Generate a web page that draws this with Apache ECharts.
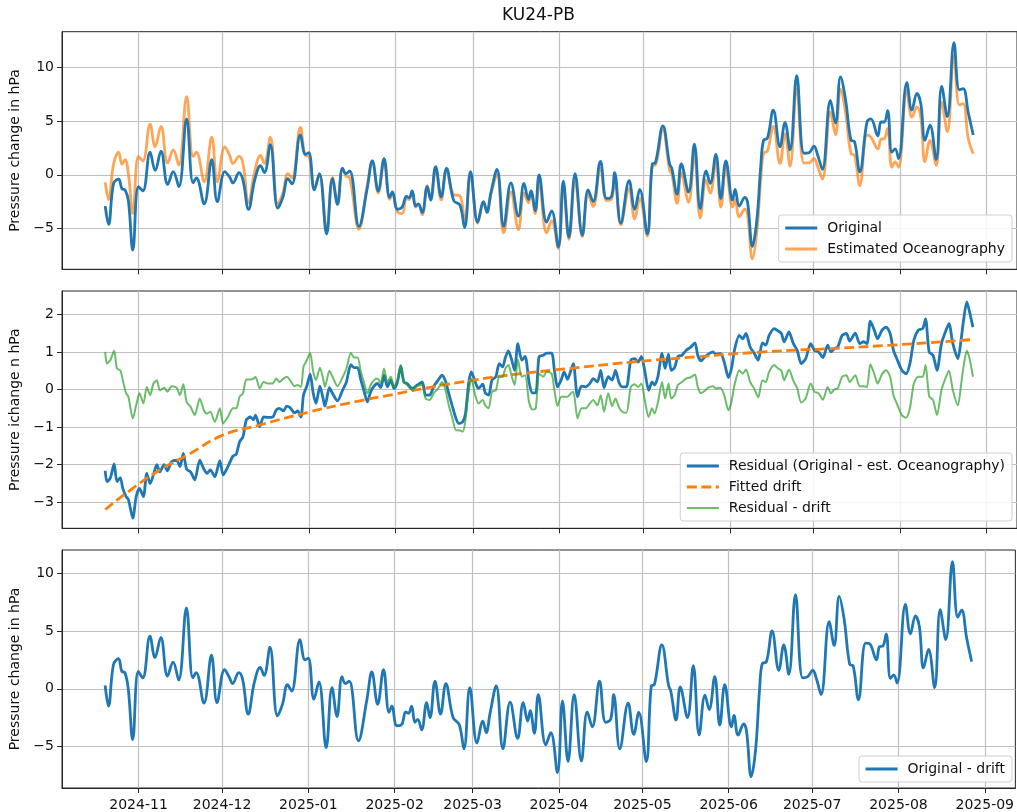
<!DOCTYPE html>
<html>
<head>
<meta charset="utf-8">
<script src="https://cdn.jsdelivr.net/npm/echarts@6/dist/echarts.min.js"></script>
<style>
html,body{margin:0;padding:0;background:#ffffff;}
#c{width:1017px;height:812px;}
</style>
</head>
<body>
<div id="c"></div>
<script>
// ---------------- DATA ----------------
// Day offsets since 2024-10-20 for the pressure series (top and bottom panels)
const pressureDays = [
  0,1.2,3.0,4.8,6.0,7.1,8.3,9.9,11.9,13.5,
  16.1,17.9,20.0,22.4,24.4,26.4,29.2,31.5,32.7,35.5,
  38.2,40.2,42.9,44.6,45.8,48.0,49.4,51.4,53.6,55.7,
  57.1,59.2,61.9,63.7,65.5,67.0,70.0,71.8,73.0,75.0,
  76.8,79.4,81.5,83.3,85.1,86.3,87.7,91.0,94.0,95.8,
  97.9,100.0,102.0,103.0,104.8,106.5,108.0,109.0,110.1,111.3,
  112.3,113.7,115.5,116.7,118.5,120.5,122.4,125.0,127.2,128.9,
  131.0,133.6,135.7,136.9,138.3,140.5,142.9,145.5,148.2,150.2,
  151.8,152.7,154.2,155.6,158.3,160.1,162.5,164.3,166.3,168.5,
  171.1,173.2,175.0,177.6,179.8,181.6,182.7,184.9,187.9,189.9,
  191.7,194.4,196.2,197.3,200.0,202.4,203.2,205.1,206.6,209.2,
  211.3,213.4,215.5,217.0,219.0,220.8,222.6,225.0,225.9,227.4,
  229.4,230.4,232.1,233.7,235.1,236.1,237.5,239.6,242.0,243.8,
  245.6,248.0,250.6,252.4,254.2,255.6,257.2,260.1,261.9,263.7,
  265.5,267.5,268.7,270.6,273.2,274.6,277.1,278.2,279.4,280.6,
  282.1,283.3,284.5,287.5,289.3,291.1,292.5,294.0,295.8,298.0,
  300.0,302.0,304.4,306.3,307.7,309.5,311.3
];
const original = [
  -2.9,-4.6,-0.8,-0.4,-1.3,-1.4,-2.4,-7.0,-1.1,-1.5,
  2.1,0.4,2.2,-0.9,0.3,-1.1,5.2,-0.75,-0.3,-2.7,
  1.4,-2.5,0.3,-0.2,-0.75,0.2,-0.5,-3.2,-0.5,0.85,
  0.2,2.8,-3.1,-2.1,-0.35,-0.85,3.7,1.9,2.05,-1.4,
  0.1,-5.5,-0.35,-2.75,0.6,0.1,0.35,-4.8,-1.2,1.3,
  -1.5,1.5,-2.1,-1.6,-3.2,-3.0,-2.0,-2.15,-1.5,-2.9,
  -2.7,-3.5,-1.1,-2.35,0.75,-2.05,0.6,-2.4,-2.8,-4.9,
  0.3,-4.4,-2.5,-3.5,-1.7,0.5,-4.8,-0.75,-3.85,-0.8,
  -2.3,-1.5,-3.35,0.0,-4.4,-3.35,-6.7,-0.6,-5.8,0.1,
  -5.6,-1.4,-2.5,1.25,-2.2,-2.0,0.2,-4.5,-0.55,-3.2,
  -1.35,-5.5,1.0,1.1,4.55,1.0,0.6,-1.8,1.0,-1.6,
  2.85,-3.15,0.35,-0.8,1.9,-2.2,1.3,-2.35,-1.35,-2.9,
  -2.1,-2.6,-6.65,-4.2,0.8,3.2,3.4,6.0,2.6,4.85,
  2.3,9.2,2.0,2.05,2.65,1.75,0.5,6.9,4.8,9.1,
  7.0,3.2,3.1,0.28,4.9,5.2,3.6,4.9,4.9,5.95,
  2.1,2.4,1.5,8.55,6.0,7.55,6.6,3.2,4.6,1.4,
  8.2,5.4,12.27,7.9,8.0,5.8,3.7
];
const estimatedOceanography = [
  -0.7,-2.3,1.0,2.1,1.0,1.4,0.1,-3.6,1.7,1.3,
  4.7,2.6,4.5,1.1,2.3,0.9,7.25,1.7,2.1,-0.65,
  3.5,-0.65,2.6,1.8,1.05,1.7,1.05,-2.6,0.3,1.8,
  1.05,3.5,-2.7,-1.7,0.1,-0.3,4.4,1.8,1.75,-1.25,
  0.0,-5.2,-0.25,-2.45,0.62,-0.1,-0.3,-5.05,-0.9,1.28,
  -1.7,1.12,-2.28,-1.8,-3.45,-3.6,-2.2,-2.3,-1.55,-3.0,
  -2.8,-3.7,-1.0,-2.25,0.65,-2.35,0.4,-1.85,-1.95,-4.2,
  -0.05,-4.5,-2.6,-3.35,-1.85,0.05,-5.4,-1.6,-5.1,-1.7,
  -2.6,-1.6,-3.6,-0.8,-5.4,-4.25,-6.85,-1.1,-6.0,-0.6,
  -5.75,-1.8,-2.95,0.6,-2.4,-2.25,-0.4,-4.65,-1.3,-4.1,
  -2.2,-5.7,0.85,0.9,4.2,0.4,0.1,-2.65,0.2,-2.55,
  1.85,-4.0,-0.5,-1.7,1.2,-3.0,0.65,-3.0,-2.3,-3.9,
  -3.2,-3.75,-7.8,-5.3,-0.4,2.0,2.2,4.5,1.05,3.8,
  0.8,8.0,1.1,1.1,1.5,0.7,-0.4,5.85,3.7,7.95,
  5.8,1.95,1.85,-1.0,3.7,3.5,2.4,3.3,3.35,4.3,
  0.7,1.2,0.7,7.85,5.35,6.3,5.3,1.2,3.2,0.85,
  6.75,4.0,11.1,6.5,6.6,3.4,1.95
];
const originalMinusDrift = [
  0.3,-1.5,2.1,2.6,1.5,1.4,0.0,-4.4,1.5,0.95,
  4.55,2.7,4.45,1.1,2.3,0.75,7.0,0.95,1.4,-1.25,
  2.9,-1.2,1.65,1.0,0.45,1.4,0.8,-2.2,0.55,1.85,
  1.15,3.6,-2.35,-1.35,0.35,-0.2,4.25,2.5,2.65,-0.9,
  0.6,-5.1,0.1,-2.4,1.05,0.45,0.65,-4.5,-1.0,1.45,
  -1.35,1.65,-2.05,-1.5,-3.2,-3.1,-2.0,-2.13,-1.5,-2.9,
  -2.65,-3.55,-1.2,-2.5,0.65,-2.2,0.45,-2.5,-3.1,-5.2,
  0.1,-4.7,-2.8,-3.8,-2.1,0.25,-5.2,-1.15,-4.3,-1.2,
  -2.8,-1.9,-3.85,-0.5,-4.85,-3.8,-7.25,-1.05,-6.3,-0.5,
  -6.25,-2.0,-3.3,0.65,-2.9,-2.65,-0.5,-5.2,-1.25,-3.95,
  -2.05,-6.3,0.25,0.35,3.8,0.3,-0.2,-2.7,0.15,-2.5,
  2.0,-4.0,-0.55,-1.8,1.05,-3.15,0.35,-3.3,-2.3,-4.0,
  -3.05,-3.65,-7.6,-5.2,-0.05,2.2,2.3,5.0,1.6,3.8,
  1.25,8.15,0.95,1.05,1.6,0.8,-0.5,5.8,3.75,8.0,
  6.0,2.1,2.0,-0.95,3.95,3.9,2.5,3.65,3.7,4.75,
  0.9,1.2,0.5,7.3,4.75,6.3,5.4,1.8,3.4,0.1,
  6.85,4.25,11.0,6.2,6.8,4.4,2.35
];

// Day offsets since 2024-10-20 for the residual series (middle panel)
const residualDays = [
  0,0.6,1.8,3.2,4.2,5.4,6.3,7.5,8.3,9.9,
  11.1,12.3,13.7,14.9,16.1,17.3,18.5,19.6,21.1,22.3,
  23.8,25.6,26.8,28.0,29.2,30.6,32.1,33.9,35.4,36.5,
  37.7,39.3,41.1,42.3,44.0,45.8,47.0,48.2,49.4,50.6,
  52.0,53.2,53.9,55.4,56.8,58.3,60.1,61.3,62.5,63.9,
  65.1,66.3,67.9,69.0,70.2,71.1,72.3,73.5,74.6,75.6,
  77.0,78.0,78.8,80.4,81.5,83.3,85.1,86.5,88.1,89.3,
  90.5,91.7,92.9,94.0,95.2,96.4,97.6,98.8,100.0,101.2,
  102.4,103.6,104.8,106.0,107.1,108.3,110.1,111.9,113.7,114.9,
  116.3,117.9,119.4,120.8,122.0,123.2,124.4,125.8,126.8,128.2,
  129.2,130.4,131.3,132.7,133.9,135.4,136.3,137.5,138.7,140.1,
  141.3,142.5,143.5,144.6,145.8,146.8,148.0,149.4,150.6,152.0,
  153.2,154.4,155.6,157.1,158.3,160.1,161.1,162.2,163.5,164.6,
  165.8,167.0,167.9,169.4,170.8,172.3,173.8,175.0,176.5,177.7,
  178.9,180.4,181.8,183.0,184.2,185.4,186.9,188.5,189.9,191.1,
  192.3,193.5,194.9,196.1,197.0,198.2,199.7,200.8,202.0,203.0,
  204.2,205.4,206.8,208.3,209.9,211.5,212.5,213.7,215.1,216.3,
  217.9,219.0,220.6,222.0,223.5,224.6,225.8,227.4,228.6,229.8,
  231.3,232.7,234.2,235.7,236.9,238.1,239.9,241.3,242.5,243.5,
  245.2,246.8,248.2,249.6,251.2,253.0,254.4,255.8,257.4,259.1,
  260.3,261.5,262.7,264.3,265.8,267.0,269.0,270.6,272.0,273.2,
  274.4,275.8,277.0,278.6,280.1,281.5,282.7,283.9,285.7,287.2,
  288.6,290.0,291.6,293.2,294.2,295.5,296.9,298.3,299.9,301.1,
  302.6,304.0,305.8,307.0,307.9,309.0,310.0,311.2
];
const residual = [
  -2.16,-2.45,-2.36,-1.98,-2.45,-2.34,-2.63,-2.85,-2.92,-3.42,
  -2.85,-2.63,-2.85,-2.23,-2.5,-2.27,-2.0,-2.19,-2.0,-2.16,
  -1.92,-1.88,-2.05,-1.7,-2.12,-2.19,-2.4,-1.88,-2.12,-2.23,
  -2.14,-2.32,-1.89,-2.27,-2.05,-1.77,-1.72,-1.39,-1.26,-0.81,
  -0.73,-0.8,-0.68,-0.99,-0.73,-0.74,-0.73,-0.55,-0.5,-0.57,
  -0.44,-0.48,-0.62,-0.57,-0.73,-0.15,0.09,0.41,-0.1,-0.37,
  0.09,-0.19,-0.44,0.05,-0.1,-0.3,-0.02,0.2,0.66,0.58,
  0.58,0.25,-0.06,-0.33,-0.06,0.09,0.16,0.05,0.38,0.07,
  0.25,0.03,0.2,0.62,0.2,0.16,0.03,0.12,0.2,-0.15,
  -0.15,0.09,0.25,0.38,0.23,-0.1,-0.42,-0.77,-0.9,-0.86,
  -0.64,0.2,0.47,0.2,0.03,0.14,-0.09,-0.15,0.25,0.34,
  0.69,0.6,0.85,1.03,0.78,0.51,1.22,0.78,0.88,0.2,
  -0.09,-0.09,0.88,0.91,0.97,0.97,0.51,0.07,0.25,0.47,
  0.27,0.51,0.69,-0.19,0.09,0.07,0.16,0.29,0.2,0.51,
  0.05,0.34,0.25,0.51,0.2,0.07,0.07,0.78,0.82,0.73,
  0.88,0.5,-0.02,0.2,0.12,0.34,0.96,0.56,0.94,0.51,
  0.58,0.88,0.91,1.04,1.12,1.24,0.91,0.76,0.87,0.94,
  1.0,0.94,0.96,0.73,0.32,0.56,1.09,1.44,1.35,1.49,
  1.13,0.97,0.78,1.24,1.18,1.44,1.62,1.56,1.49,1.27,
  1.53,1.22,1.04,0.69,0.82,1.22,1.04,1.0,0.85,1.18,
  1.0,1.09,1.13,1.44,1.49,1.29,1.5,1.22,1.27,1.22,
  1.82,1.58,1.35,1.58,1.66,1.49,1.04,0.82,0.51,0.42,
  0.69,1.31,1.58,1.62,1.88,1.0,0.91,0.51,1.22,1.49,
  1.75,1.22,0.82,1.35,1.88,2.33,2.06,1.66
];
const residualMinusDrift = [
  1.0,0.69,0.78,1.03,0.56,0.51,0.25,-0.1,-0.19,-0.77,
  -0.42,-0.1,-0.37,0.07,-0.15,0.16,0.25,-0.02,0.05,-0.06,
  0.09,0.05,-0.15,0.14,-0.33,-0.46,-0.68,-0.24,-0.55,-0.64,
  -0.59,-0.86,-0.5,-0.9,-0.73,-0.5,-0.5,-0.19,-0.1,0.27,
  0.27,0.29,0.34,0.03,0.2,0.16,0.16,0.29,0.2,0.29,
  0.34,0.25,0.09,0.12,0.07,0.6,0.78,0.97,0.47,0.25,
  0.58,0.34,0.07,0.5,0.34,0.09,0.32,0.56,0.97,0.85,
  0.85,0.47,0.16,-0.1,0.12,0.25,0.29,0.16,0.56,0.2,
  0.34,0.07,0.25,0.65,0.2,0.12,-0.02,0.09,0.12,-0.24,
  -0.28,-0.09,0.03,0.2,0.0,-0.42,-0.73,-1.08,-1.08,-1.12,
  -0.81,-0.02,0.29,-0.15,-0.37,-0.28,-0.42,-0.5,-0.06,-0.02,
  0.34,0.34,0.56,0.65,0.34,0.12,0.8,0.34,0.38,-0.33,
  -0.53,-0.5,0.42,0.34,0.47,0.42,-0.02,-0.44,-0.19,-0.19,
  -0.19,-0.1,-0.06,-0.77,-0.5,-0.5,-0.37,-0.28,-0.42,-0.15,
  -0.59,-0.1,-0.44,-0.24,-0.46,-0.59,-0.62,0.07,0.14,0.07,
  0.16,-0.28,-0.73,-0.5,-0.64,-0.35,0.2,-0.24,0.16,-0.24,
  -0.15,0.12,0.2,0.29,0.32,0.4,0.07,-0.1,-0.03,0.05,
  0.09,0.03,0.05,-0.15,-0.55,-0.33,0.16,0.51,0.42,0.53,
  0.2,0.03,-0.21,0.25,0.2,0.47,0.65,0.56,0.5,0.25,
  0.53,0.23,0.03,-0.35,-0.24,0.16,-0.06,-0.1,-0.27,0.07,
  -0.1,0.0,0.03,0.34,0.38,0.2,0.38,0.09,0.09,0.07,
  0.67,0.42,0.16,0.41,0.51,0.34,-0.15,-0.37,-0.68,-0.75,
  -0.5,0.16,0.34,0.34,0.65,-0.18,-0.28,-0.68,-0.02,0.25,
  0.5,-0.02,-0.42,0.16,0.65,1.03,0.82,0.34
];

// Fitted drift (dashed), day offsets since 2024-10-20
const driftDays = [0,10,20,30,42,55,73,90,104,118,132,141,165,189,212,236,260,284,311.3];
const fittedDrift = [-3.19,-2.62,-2.12,-1.72,-1.22,-0.95,-0.6,-0.32,-0.12,0.08,0.25,0.35,0.55,0.73,0.87,1.0,1.09,1.19,1.33];

// Tick labels
const monthTicks = ['2024-11','2024-12','2025-01','2025-02','2025-03','2025-04','2025-05','2025-06','2025-07','2025-08','2025-09'];
const pressureTicks = [-5, 0, 5, 10];
const residualTicks = [-3, -2, -1, 0, 1, 2];

// ---------------- CHART ----------------
const FONT = 'DejaVu Sans';
const TEXT = '#111111';
const AXIS = '#262626';
const GRIDC = '#bfbfbf';
const BLUE = '#1f77b4', ORANGE = '#ff7f0e', GREEN = '#2ca02c';

const DAY = 86400000;
const startTs = new Date(2024, 9, 20).getTime();
const toTs = d => startTs + d * DAY;
const pairs = (ds, vs) => ds.map((d, i) => [toTs(d), vs[i]]);
const monthTs = monthTicks.map(s => { const p = s.split('-').map(Number); return new Date(p[0], p[1] - 1, 1).getTime(); });
const xMin = new Date(2024, 9, 4, 12).getTime();
const xMax = new Date(2025, 8, 12).getTime();

const minus = v => (v < 0 ? '\u2212' + Math.abs(v) : String(v));
const monthFmt = v => {
  let best = 0, bd = Infinity;
  monthTs.forEach((t, i) => { const dd = Math.abs(t - v); if (dd < bd) { bd = dd; best = i; } });
  return monthTicks[best];
};

function makeX(idx, showLabel) {
  return {
    type: 'value', gridIndex: idx, min: xMin, max: xMax, scale: true,
    axisLine: { show: true, onZero: false, lineStyle: { color: AXIS, width: 1 } },
    axisTick: { show: true, length: 5, customValues: monthTs, lineStyle: { color: AXIS, width: 1 } },
    axisLabel: { show: showLabel, customValues: monthTs, formatter: monthFmt, fontFamily: FONT, fontSize: 14, color: TEXT, margin: 10 },
    splitLine: { show: true, lineStyle: { color: GRIDC, width: 1.2 } }
  };
}
function makeY(idx, min, max, ticks, name) {
  return {
    type: 'value', gridIndex: idx, min: min, max: max,
    name: name, nameLocation: 'middle', nameGap: 37,
    nameTextStyle: { fontFamily: FONT, fontSize: 14, color: TEXT },
    axisLine: { show: true, onZero: false, lineStyle: { color: AXIS, width: 1 } },
    axisTick: { show: true, length: 5, customValues: ticks, lineStyle: { color: AXIS, width: 1 } },
    axisLabel: { customValues: ticks, formatter: minus, fontFamily: FONT, fontSize: 14, color: TEXT, margin: 8 },
    splitLine: { show: true, lineStyle: { color: GRIDC, width: 1.2 } }
  };
}
function makeLegend(items, top) {
  return {
    data: items, orient: 'vertical', right: 5, top: top, align: 'left',
    itemWidth: 32, itemHeight: 14, itemGap: 7, padding: [6, 7, 6, 5],
    backgroundColor: 'rgba(255,255,255,0.85)', borderColor: '#cfcfcf', borderWidth: 1, borderRadius: 3,
    selectedMode: false,
    itemStyle: { opacity: 0, borderWidth: 0 },
    textStyle: { fontFamily: FONT, fontSize: 14, color: TEXT, padding: [0, 0, 0, 5] }
  };
}
function line(name, xi, data, color, width, extra) {
  return Object.assign({
    name: name, type: 'line', xAxisIndex: xi, yAxisIndex: xi, data: data,
    symbol: 'none', showSymbol: false, smooth: 0.4, color: color,
    lineStyle: { color: color, width: width }, itemStyle: { color: color },
    emphasis: { disabled: true }, silent: true
  }, extra || {});
}

const chart = echarts.init(document.getElementById('c'), null, { renderer: 'canvas' });
chart.setOption({
  animation: false,
  backgroundColor: '#ffffff',
  title: { text: 'KU24-PB', left: 497, top: 2, textStyle: { fontFamily: FONT, fontSize: 17, fontWeight: 'normal', color: TEXT } },
  grid: [
    { left: 62, width: 959, top: 31.7, height: 237.6, show: true, borderColor: AXIS, borderWidth: 1, containLabel: false },
    { left: 62, width: 959, top: 291, height: 237.3, show: true, borderColor: AXIS, borderWidth: 1, containLabel: false },
    { left: 62, width: 959, top: 550, height: 239, show: true, borderColor: AXIS, borderWidth: 1, containLabel: false }
  ],
  xAxis: [makeX(0, false), makeX(1, false), makeX(2, true)],
  yAxis: [
    makeY(0, -8.78, 13.29, pressureTicks, 'Pressure change in hPa'),
    makeY(1, -3.69, 2.62, residualTicks, 'Pressure ichange n hPa'),
    makeY(2, -8.59, 12.01, pressureTicks, 'Pressure change in hPa')
  ],
  legend: [
    makeLegend([
      { name: 'Original', lineStyle: { width: 3.2 } },
      { name: 'Estimated Oceanography', lineStyle: { width: 3.2 } }
    ], 215),
    makeLegend([
      { name: 'Residual (Original - est. Oceanography)', lineStyle: { width: 3.2 } },
      { name: 'Fitted drift', lineStyle: { width: 3.2 } },
      { name: 'Residual - drift', lineStyle: { width: 2.2 } }
    ], 453),
    makeLegend([{ name: 'Original - drift', lineStyle: { width: 3.2 } }], 756)
  ],
  series: [
    line('Estimated Oceanography', 0, pairs(pressureDays, estimatedOceanography), ORANGE, 2.8, { lineStyle: { color: ORANGE, width: 2.8, opacity: 0.7 } }),
    line('Original', 0, pairs(pressureDays, original), BLUE, 2.8),
    line('Residual (Original - est. Oceanography)', 1, pairs(residualDays, residual), BLUE, 2.8, { smooth: 0.25 }),
    line('Fitted drift', 1, pairs(driftDays, fittedDrift), ORANGE, 2.8, { smooth: 0.5, lineStyle: { color: ORANGE, width: 2.8, type: [10, 4.5] } }),
    line('Residual - drift', 1, pairs(residualDays, residualMinusDrift), GREEN, 2, { smooth: 0.25, lineStyle: { color: GREEN, width: 2, opacity: 0.7 } }),
    line('Original - drift', 2, pairs(pressureDays, originalMinusDrift), BLUE, 2.8)
  ]
});
</script>
</body>
</html>
